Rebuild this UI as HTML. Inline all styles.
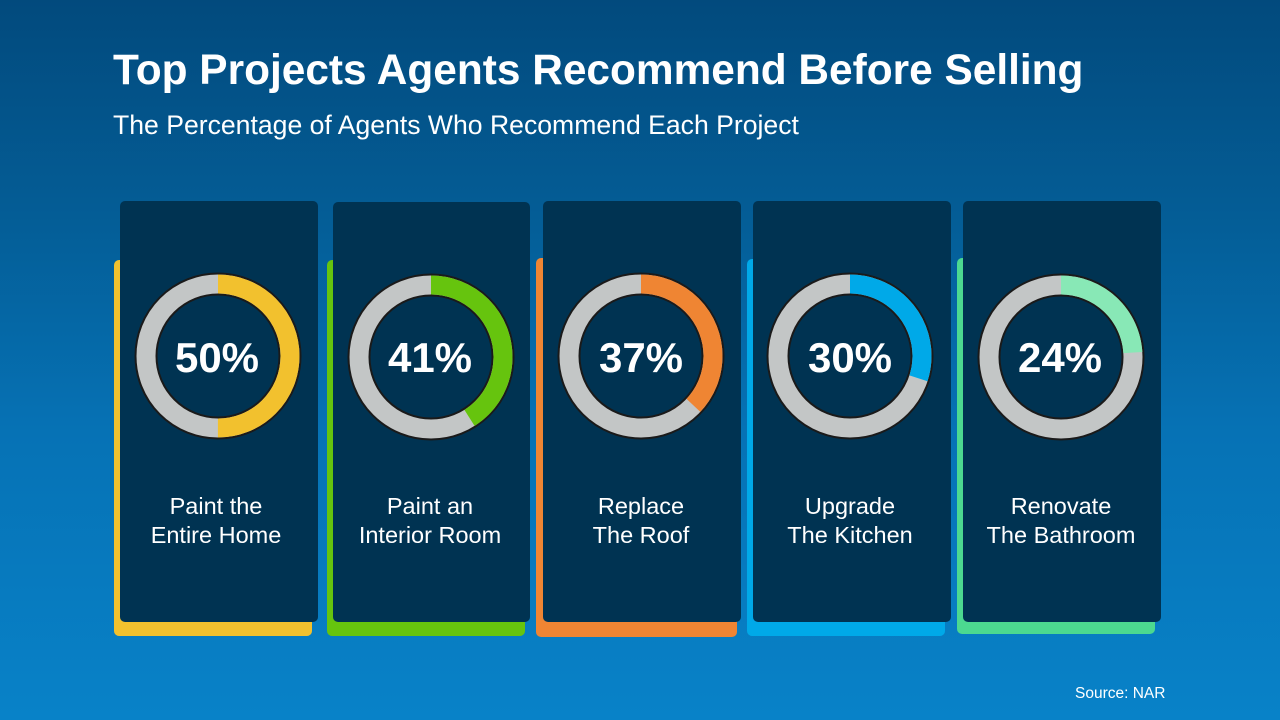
<!DOCTYPE html>
<html><head><style>
body{margin:0;width:1280px;height:720px;overflow:hidden;background:linear-gradient(180deg,#024a7d 0%,#045d96 30%,#0672b5 60%,#0882c8 100%);font-family:"Liberation Sans",sans-serif;position:relative;color:#fff}
h1{position:absolute;left:113px;top:46px;margin:0;font-size:42.4px;font-weight:bold}
.sub{position:absolute;left:113px;top:110px;font-size:26.6px}
.src{position:absolute;left:1075px;top:685px;font-size:15.5px}
.back{position:absolute;border-radius:5px}
.card{position:absolute;background:#003352;border-radius:5px;width:198px;top:201px;height:421px}
.lab{position:absolute;top:492px;width:198px;text-align:center;font-size:23.5px;line-height:29px}
svg{position:absolute;left:0;top:0}
.pct{font-weight:bold;font-size:42px;fill:#fff}
</style></head><body>
<h1>Top Projects Agents Recommend Before Selling</h1>
<div class="sub">The Percentage of Agents Who Recommend Each Project</div>

<div class="back" style="left:114px;top:260px;width:198px;height:376px;background:#f2c12e"></div>
<div class="back" style="left:327px;top:260px;width:198px;height:376px;background:#66c40e"></div>
<div class="back" style="left:536px;top:258px;width:201px;height:379px;background:#ef8533"></div>
<div class="back" style="left:747px;top:259px;width:198px;height:377px;background:#00a9e8"></div>
<div class="back" style="left:957px;top:258px;width:198px;height:376px;background:#4cd990"></div>

<div class="card" style="left:120px"></div>
<div class="card" style="left:333px;top:202px;height:420px;width:197px"></div>
<div class="card" style="left:543px"></div>
<div class="card" style="left:753px"></div>
<div class="card" style="left:963px"></div>

<div class="lab" style="left:117px">Paint the<br>Entire Home</div>
<div class="lab" style="left:331px">Paint an<br>Interior Room</div>
<div class="lab" style="left:542px">Replace<br>The Roof</div>
<div class="lab" style="left:751px">Upgrade<br>The Kitchen</div>
<div class="lab" style="left:962px">Renovate<br>The Bathroom</div>

<svg width="1280" height="720">
<g transform="translate(218,356) rotate(-90)">
<circle r="72" fill="none" stroke="#1a1a1a" stroke-width="23"/>
<circle r="72" fill="none" stroke="#c3c6c6" stroke-width="19"/>
<circle r="72" fill="none" stroke="#f2c12e" stroke-width="19" stroke-dasharray="226.2 452.4"/>
</g>
<g transform="translate(431,357) rotate(-90)">
<circle r="72" fill="none" stroke="#1a1a1a" stroke-width="23"/>
<circle r="72" fill="none" stroke="#c3c6c6" stroke-width="19"/>
<circle r="72" fill="none" stroke="#66c40e" stroke-width="19" stroke-dasharray="185.5 452.4"/>
</g>
<g transform="translate(641,356) rotate(-90)">
<circle r="72" fill="none" stroke="#1a1a1a" stroke-width="23"/>
<circle r="72" fill="none" stroke="#c3c6c6" stroke-width="19"/>
<circle r="72" fill="none" stroke="#ef8533" stroke-width="19" stroke-dasharray="167.4 452.4"/>
</g>
<g transform="translate(850,356) rotate(-90)">
<circle r="72" fill="none" stroke="#1a1a1a" stroke-width="23"/>
<circle r="72" fill="none" stroke="#c3c6c6" stroke-width="19"/>
<circle r="72" fill="none" stroke="#00a9e8" stroke-width="19" stroke-dasharray="135.7 452.4"/>
</g>
<g transform="translate(1061,357) rotate(-90)">
<circle r="72" fill="none" stroke="#1a1a1a" stroke-width="23"/>
<circle r="72" fill="none" stroke="#c3c6c6" stroke-width="19"/>
<circle r="72" fill="none" stroke="#88e8b6" stroke-width="19" stroke-dasharray="108.6 452.4"/>
</g>
<text class="pct" x="217" y="372" text-anchor="middle">50%</text>
<text class="pct" x="430" y="372" text-anchor="middle">41%</text>
<text class="pct" x="641" y="372" text-anchor="middle">37%</text>
<text class="pct" x="850" y="372" text-anchor="middle">30%</text>
<text class="pct" x="1060" y="372" text-anchor="middle">24%</text>
</svg>
<div class="src">Source: NAR</div>
</body></html>
